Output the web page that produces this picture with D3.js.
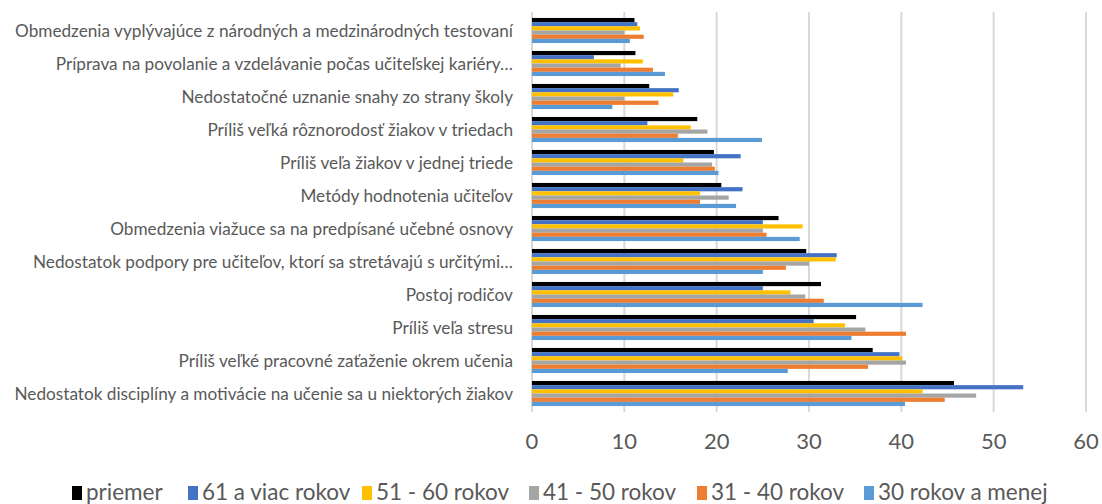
<!DOCTYPE html>
<html>
<head>
<meta charset="utf-8">
<script src="https://cdn.jsdelivr.net/npm/d3@7"></script>
<style>
  body { margin: 0; background: #fff; }
  svg { display: block; }
</style>
</head>
<body>
<svg id="chart" width="1102" height="504"></svg>
<script>
// categories, top to bottom
const categories = [
  "Obmedzenia vyplývajúce z národných a medzinárodných testovaní",
  "Príprava na povolanie a vzdelávanie počas učiteľskej kariéry…",
  "Nedostatočné uznanie snahy zo strany školy",
  "Príliš veľká rôznorodosť žiakov v triedach",
  "Príliš veľa žiakov v jednej triede",
  "Metódy hodnotenia učiteľov",
  "Obmedzenia viažuce sa na predpísané učebné osnovy",
  "Nedostatok podpory pre učiteľov, ktorí sa stretávajú s určitými…",
  "Postoj rodičov",
  "Príliš veľa stresu",
  "Príliš veľké pracovné zaťaženie okrem učenia",
  "Nedostatok disciplíny a motivácie na učenie sa u niektorých žiakov"
];

const seriesNames = ["priemer", "61 a viac rokov", "51 - 60 rokov", "41 - 50 rokov", "31 - 40 rokov", "30 rokov a menej"];
const seriesColors = ["#000000", "#4472C4", "#FFC000", "#A5A5A5", "#ED7D31", "#5B9BD5"];

const priemer    = [11.1, 11.2, 12.7, 17.9, 19.7, 20.5, 26.7, 29.7, 31.3, 35.1, 36.9, 45.7];
const viac61     = [11.4,  6.7, 15.9, 12.5, 22.6, 22.8, 25.0, 33.0, 25.0, 30.5, 39.8, 53.2];
const r51_60     = [11.7, 12.0, 15.3, 17.2, 16.4, 18.2, 29.3, 32.9, 28.0, 33.9, 40.1, 42.3];
const r41_50     = [10.0,  9.6, 10.0, 19.0, 19.5, 21.3, 25.0, 30.0, 29.6, 36.1, 40.5, 48.1];
const r31_40     = [12.1, 13.1, 13.7, 15.8, 19.8, 18.2, 25.4, 27.5, 31.6, 40.5, 36.4, 44.7];
const menej30    = [10.6, 14.4,  8.7, 24.9, 20.2, 22.1, 29.0, 25.0, 42.3, 34.6, 27.7, 40.4];

const seriesValues = [priemer, viac61, r51_60, r41_50, r31_40, menej30];
const xTicks = [0, 10, 20, 30, 40, 50, 60];

const svg = d3.select("#chart");
const plotLeft = 532, plotRight = 1086, plotTop = 14, plotBottom = 410;

const x = d3.scaleLinear().domain([0, 60]).range([plotLeft, plotRight]);
const y = d3.scaleBand().domain(categories).range([plotTop, plotBottom])
  .paddingInner(0.24).paddingOuter(0.12);
const ys = d3.scaleBand().domain(seriesNames).range([0, y.bandwidth()]);

// gridlines
svg.append("g")
  .selectAll("line")
  .data(xTicks)
  .join("line")
    .attr("x1", d => x(d)).attr("x2", d => x(d))
    .attr("y1", plotTop - 2).attr("y2", plotBottom + 2)
    .attr("stroke", "#d9d9d9")
    .attr("stroke-width", 2);

// bars
const rows = [];
categories.forEach((c, i) => {
  seriesNames.forEach((s, j) => rows.push({ cat: c, s, j, v: seriesValues[j][i] }));
});

svg.append("g")
  .selectAll("rect")
  .data(rows)
  .join("rect")
    .attr("x", x(0))
    .attr("y", d => y(d.cat) + ys(d.s))
    .attr("width", d => x(d.v) - x(0))
    .attr("height", ys.bandwidth())
    .attr("fill", d => seriesColors[d.j]);

// category labels
svg.append("g")
  .attr("font-family", "Lato, 'Open Sans', sans-serif")
  .attr("font-size", 17.2)
  .attr("fill", "#595959")
  .attr("text-anchor", "end")
  .selectAll("text")
  .data(categories)
  .join("text")
    .attr("x", 513)
    .attr("y", d => y(d) + y.bandwidth() / 2)
    .attr("dy", "0.35em")
    .text(d => d);

// x tick labels
svg.append("g")
  .attr("font-family", "Lato, 'Open Sans', sans-serif")
  .attr("font-size", 22)
  .attr("fill", "#595959")
  .attr("text-anchor", "middle")
  .selectAll("text")
  .data(xTicks)
  .join("text")
    .attr("x", d => x(d))
    .attr("y", 449)
    .text(d => d);

// legend
const legendX = [72, 188, 362, 529, 697, 864];
const legend = svg.append("g")
  .attr("font-family", "Lato, 'Open Sans', sans-serif")
  .attr("font-size", 22.5)
  .attr("fill", "#595959");

const item = legend.selectAll("g")
  .data(seriesNames)
  .join("g")
    .attr("transform", (d, i) => `translate(${legendX[i]},0)`);

item.append("rect")
  .attr("x", 0).attr("y", 486)
  .attr("width", 10).attr("height", 14)
  .attr("fill", (d, i) => seriesColors[i]);

item.append("text")
  .attr("x", 14)
  .attr("y", 500)
  .text(d => d);
</script>
</body>
</html>
